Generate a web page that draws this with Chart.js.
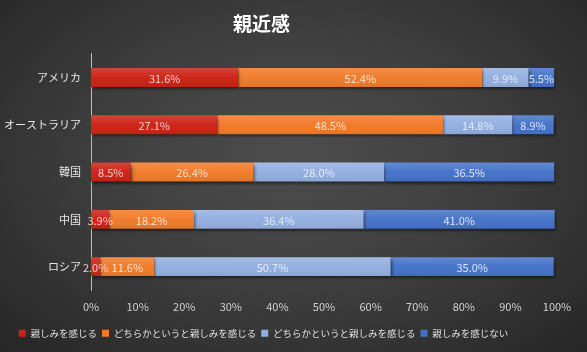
<!DOCTYPE html>
<html>
<head>
<meta charset="utf-8">
<script src="https://cdn.jsdelivr.net/npm/chart.js@4"></script>
<style>
  html, body { margin: 0; padding: 0; }
  body {
    width: 587px; height: 352px; overflow: hidden;
    background: radial-gradient(ellipse at 50% 45%, #4d4d4d 0%, #3f3f3f 45%, #262626 100%);
  }
  #wrap { position: relative; width: 587px; height: 352px; }
</style>
</head>
<body>
<div id="wrap"><canvas id="chart"></canvas></div>
<script>
// chart data
const countries = ['アメリカ', 'オーストラリア', '韓国', '中国', 'ロシア'];
const seriesNames = ['親しみを感じる', 'どちらかというと親しみを感じる', 'どちらかというと親しみを感じる', '親しみを感じない'];
const feelClose = [31.6, 27.1, 8.5, 3.9, 2.0];
const ratherClose = [52.4, 48.5, 26.4, 18.2, 11.6];
const ratherNotClose = [9.9, 14.8, 28.0, 36.4, 50.7];
const notClose = [5.5, 8.9, 36.5, 41.0, 35.0];
const xTicks = [0, 10, 20, 30, 40, 50, 60, 70, 80, 90, 100];

const colors = ['#cc2214', '#f07a28', '#93afe0', '#4572c8'];
const labelColors = ['#f4cccc', '#fde2cc', '#e3ebf8', '#dce6f8'];
const FONT = '"Noto Sans CJK JP", "Noto Sans", sans-serif';

// soft drop shadow under the bars
const barShadow = {
    id: 'barShadow',
    beforeDatasetsDraw(chart) {
        const ctx = chart.ctx;
        ctx.save();
        ctx.shadowColor = 'rgba(0,0,0,0.6)';
        ctx.shadowBlur = 3;
        ctx.shadowOffsetX = 1;
        ctx.shadowOffsetY = 2;
    },
    afterDatasetsDraw(chart) {
        chart.ctx.restore();
    }
};

// light-to-dark sheen on every bar segment, like the office chart style
const barSheen = {
    id: 'barSheen',
    afterDatasetsDraw(chart) {
        const ctx = chart.ctx;
        ctx.save();
        chart.data.datasets.forEach((ds, i) => {
            chart.getDatasetMeta(i).data.forEach((bar) => {
                const h = bar.height;
                const top = bar.y - h / 2;
                const g = ctx.createLinearGradient(0, top, 0, top + h);
                g.addColorStop(0, 'rgba(255,255,255,0.16)');
                g.addColorStop(0.5, 'rgba(255,255,255,0.02)');
                g.addColorStop(1, 'rgba(0,0,0,0.06)');
                ctx.fillStyle = g;
                ctx.fillRect(Math.min(bar.base, bar.x), top, Math.abs(bar.x - bar.base), h);
            });
        });
        ctx.restore();
    }
};

// draws the value in the middle of every segment
const segmentLabels = {
    id: 'segmentLabels',
    afterDatasetsDraw(chart) {
        const ctx = chart.ctx;
        ctx.save();
        ctx.font = '11px ' + FONT;
        ctx.textAlign = 'center';
        ctx.textBaseline = 'middle';
        chart.data.datasets.forEach((ds, i) => {
            const meta = chart.getDatasetMeta(i);
            meta.data.forEach((bar, j) => {
                const cx = (bar.x + bar.base) / 2;
                ctx.fillStyle = labelColors[i];
                ctx.fillText(ds.data[j].toFixed(1) + '%', cx, bar.y + 1);
            });
        });
        ctx.restore();
    }
};

// in the original the title and legend sit a bit left of the canvas centre
const shiftBlocks = {
    id: 'shiftBlocks',
    afterLayout(chart) {
        if (chart.titleBlock) chart.titleBlock.right -= 34;
        if (chart.legend) chart.legend.right -= 30;
    }
};

const seriesValues = [feelClose, ratherClose, ratherNotClose, notClose];

new Chart(document.getElementById('chart'), {
    type: 'bar',
    data: {
        labels: countries,
        datasets: seriesValues.map((vals, i) => ({
            label: seriesNames[i],
            data: vals,
            backgroundColor: colors[i],
            borderWidth: 0,
            categoryPercentage: 0.4,
            barPercentage: 1.0
        }))
    },
    plugins: [barShadow, barSheen, segmentLabels, shiftBlocks],
    options: {
        indexAxis: 'y',
        responsive: true,
        maintainAspectRatio: false,
        animation: false,
        layout: { padding: { left: 0, right: 30, top: 4, bottom: 4 } },
        scales: {
            x: {
                stacked: true,
                min: 0,
                max: 100,
                afterBuildTicks: (axis) => { axis.ticks = xTicks.map(v => ({ value: v })); },
                grid: { display: false, drawTicks: false },
                border: { display: false },
                ticks: {
                    color: '#d0d0d0',
                    font: { family: FONT, size: 11 },
                    padding: 10,
                    callback: (v) => v + '%'
                }
            },
            y: {
                stacked: true,
                grid: { display: false, drawTicks: false },
                border: { display: true, color: '#bdbdbd', width: 1 },
                afterFit: (s) => { s.width = 91; },
                ticks: {
                    color: '#e6e6e6',
                    font: { family: FONT, size: 11 },
                    padding: 10
                }
            }
        },
        plugins: {
            title: {
                display: true,
                text: '親近感',
                color: '#ffffff',
                font: { family: FONT, size: 19, weight: 'bold' },
                padding: { top: 8, bottom: 19 }
            },
            legend: {
                position: 'bottom',
                labels: {
                    color: '#e0e0e0',
                    font: { family: FONT, size: 9.5 },
                    boxWidth: 7,
                    boxHeight: 7,
                    padding: 5
                }
            },
            tooltip: { enabled: false }
        }
    }
});
</script>
</body>
</html>
